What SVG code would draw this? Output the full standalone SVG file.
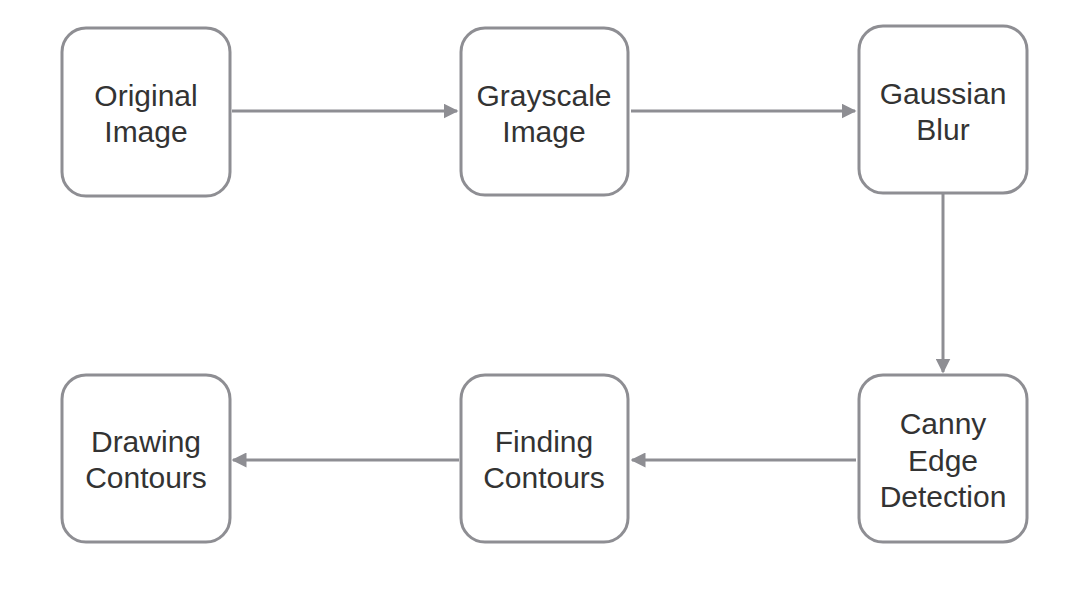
<svg xmlns="http://www.w3.org/2000/svg" width="1072" height="590" viewBox="0 0 1072 590">
<style>
.box{fill:#fff;stroke:#8e8e93;stroke-width:3}
.t{font-family:"Liberation Sans",Arial,sans-serif;font-size:30px;fill:#333;text-anchor:middle}
.c{stroke:#8e8e93;stroke-width:3;fill:none}
</style>
<defs>
<marker id="ah" viewBox="0 0 10 10" refX="9" refY="5" markerWidth="5" markerHeight="5" orient="auto" markerUnits="strokeWidth">
<path d="M0,0 L10,5 L0,10 z" fill="#8e8e93"/>
</marker>
</defs>
<rect width="1072" height="590" fill="#fff"/>
<g id="n1"><rect class="box" x="62" y="28" width="168" height="168" rx="24"/><text class="t" x="146" y="106">Original</text><text class="t" x="146" y="142">Image</text></g>
<g id="n2"><rect class="box" x="461" y="28" width="167" height="167" rx="24"/><text class="t" x="544" y="106">Grayscale</text><text class="t" x="544" y="142">Image</text></g>
<g id="n3"><rect class="box" x="859" y="26" width="168" height="167" rx="24"/><text class="t" x="943" y="104">Gaussian</text><text class="t" x="943" y="140">Blur</text></g>
<g id="n4"><rect class="box" x="859" y="375" width="168" height="167" rx="24"/><text class="t" x="943" y="434">Canny</text><text class="t" x="943" y="471">Edge</text><text class="t" x="943" y="507">Detection</text></g>
<g id="n5"><rect class="box" x="461" y="375" width="167" height="167" rx="24"/><text class="t" x="544" y="452">Finding</text><text class="t" x="544" y="488">Contours</text></g>
<g id="n6"><rect class="box" x="62" y="375" width="168" height="167" rx="24"/><text class="t" x="146" y="452">Drawing</text><text class="t" x="146" y="488">Contours</text></g>
<g id="connectors">
<line class="c" x1="232" y1="111" x2="457" y2="111" marker-end="url(#ah)"/>
<line class="c" x1="631" y1="111" x2="855" y2="111" marker-end="url(#ah)"/>
<line class="c" x1="943" y1="194" x2="943" y2="372" marker-end="url(#ah)"/>
<line class="c" x1="856" y1="460" x2="632" y2="460" marker-end="url(#ah)"/>
<line class="c" x1="459" y1="460" x2="233" y2="460" marker-end="url(#ah)"/>
</g>
</svg>
